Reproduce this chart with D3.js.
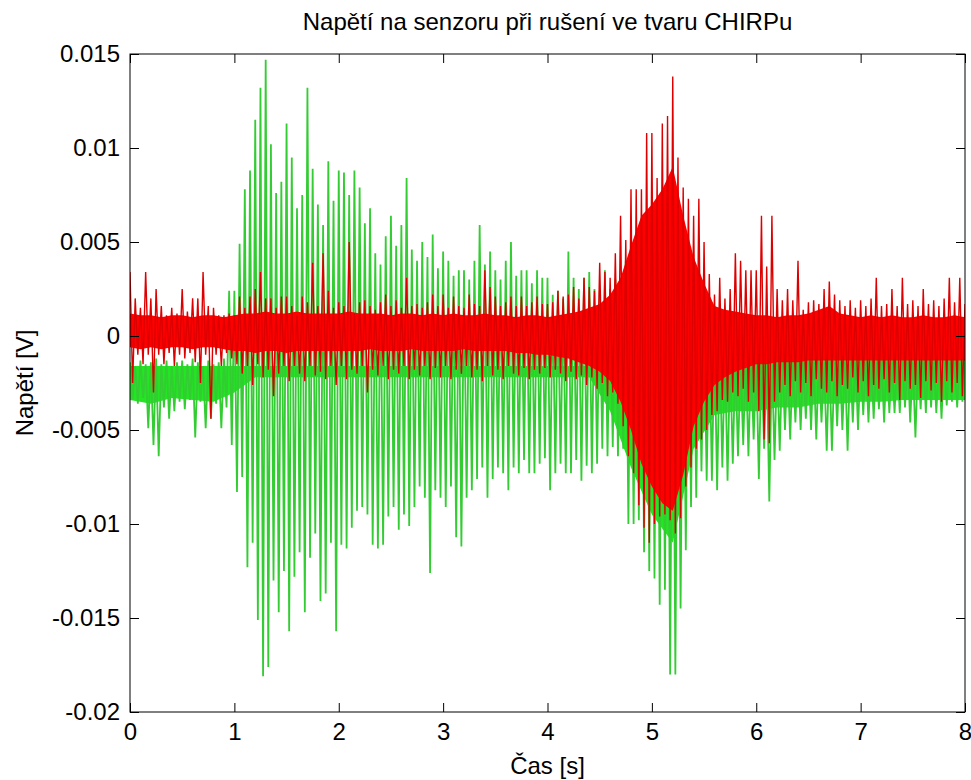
<!DOCTYPE html>
<html>
<head>
<meta charset="utf-8">
<script src="https://cdn.jsdelivr.net/npm/d3@7"></script>
<style>
	body { margin: 0; background: #fff; }
	svg { display: block; }
	text { font-family: "Liberation Sans", Arial, sans-serif; }
</style>
</head>
<body>
<div id="chart"></div>
<script>
// sample steps of the envelopes (seconds)
var spikeStep = 0.05;
var redCoreStep = 0.1;
var greenCoreStep = 0.2;

var xTicks = [0, 1, 2, 3, 4, 5, 6, 7, 8];
var yTicks = [15, 10, 5, 0, -5, -10, -15, -20]; // mV
var yTickLabels = ["0.015", "0.01", "0.005", "0", "-0.005", "-0.01", "-0.015", "-0.02"];

// all values below in mV, one row per second
var greenHi = [
	-1.4,-1.6,-1.3,-1.5,-1.4,-1.2,-1.5,-1.3,-1.6,-1.4,-1.3,-1.5,-1.2,-1.4,-1.6,-1.3,-1.5,-1.4,-1.2,2.4,
	2.4,4.9,7.8,8.8,11.5,13.2,14.7,10.2,7.6,8.2,11.3,9.5,6.8,7.5,13.2,8.9,7.0,5.9,9.3,7.2,
	8.8,8.7,7.5,8.8,7.9,6.0,6.8,4.4,3.8,5.3,6.4,4.8,5.9,8.4,4.6,4.0,5.0,4.2,5.4,3.6,
	4.5,4.0,3.2,3.5,3.5,3.0,4.0,5.9,3.8,4.5,3.5,3.0,4.0,5.0,3.2,3.5,3.5,2.8,3.5,3.1,
	3.1,2.2,2.4,2.0,4.5,3.1,2.5,3.1,3.4,2.5,2.4,3.5,2.5,3.0,3.0,4.0,4.5,5.0,5.5,6.0,
	6.0,6.5,6.0,5.5,5.0,4.0,3.0,2.5,2.0,1.5,1.0,0.5,0.0,-0.5,-0.8,-1.0,-1.0,-1.2,-1.0,-1.1,
	-1.2,-1.0,-1.3,-1.1,-1.2,-1.0,-1.3,-1.2,-1.1,-1.3,-1.0,-1.2,-1.1,-1.3,-1.0,-1.2,-1.1,-1.3,-1.2,-1.0,
	-1.2,-1.1,-1.3,-1.0,-1.2,-1.1,-1.3,-1.2,-1.0,-1.1,-1.3,-1.2,-1.0,-1.1,-1.2,-1.3,-1.1,-1.0,-1.2,-1.1,
	-1.2
];
var greenLo = [
	-3.4,-3.6,-3.3,-4.9,-5.8,-6.4,-3.8,-4.4,-4.0,-3.5,-3.9,-3.4,-5.4,-3.5,-4.9,-4.4,-3.6,-4.9,-3.8,-5.8,
	-8.3,-7.5,-12.3,-11.0,-15.1,-18.1,-17.6,-13.0,-14.7,-12.5,-15.7,-12.8,-11.5,-14.7,-11.8,-10.5,-14.1,-13.7,-11.0,-15.7,
	-11.1,-11.3,-10.2,-9.3,-9.1,-9.5,-11.1,-11.3,-11.1,-9.6,-9.1,-10.3,-9.5,-10.1,-9.1,-8.0,-8.6,-12.6,-8.2,-8.6,
	-9.1,-8.0,-10.7,-11.2,-8.6,-8.2,-7.6,-7.0,-8.6,-7.6,-7.0,-7.3,-8.2,-7.0,-7.3,-6.6,-7.3,-7.3,-6.8,-6.5,
	-8.2,-7.3,-6.8,-7.3,-7.3,-6.6,-7.7,-6.9,-7.3,-6.8,-6.0,-6.4,-5.9,-6.4,-6.0,-10.0,-10.0,-9.8,-11.5,-12.5,
	-12.9,-14.3,-13.5,-18.0,-18.0,-14.5,-11.4,-9.1,-8.6,-7.2,-7.7,-7.7,-8.2,-7.0,-7.7,-6.8,-6.4,-5.8,-6.4,-5.5,
	-7.6,-6.0,-8.8,-6.6,-6.1,-5.0,-5.5,-4.6,-5.0,-4.4,-5.0,-5.5,-4.6,-6.1,-6.1,-4.8,-5.0,-6.1,-4.6,-5.0,
	-4.2,-4.6,-4.4,-3.9,-4.6,-4.1,-4.1,-4.1,-3.8,-4.6,-5.4,-3.9,-4.1,-3.8,-4.1,-4.4,-3.7,-3.5,-3.8,-3.5,
	-3.5
];
var redHi = [
	3.4,2.0,1.5,3.4,2.0,2.5,1.6,1.1,1.5,1.2,2.5,1.3,2.0,2.0,3.4,1.6,1.5,1.1,1.1,1.2,
	1.1,2.1,1.5,2.1,2.5,3.4,2.0,2.0,1.5,2.1,2.1,1.6,1.1,2.1,1.8,3.9,1.6,4.4,2.4,1.5,
	1.8,1.6,5.0,1.2,1.8,1.9,1.6,1.4,1.8,2.2,1.6,1.9,1.5,3.1,1.6,1.7,1.5,1.8,2.2,1.6,
	2.2,1.5,2.1,1.6,1.5,2.2,1.7,1.6,3.5,2.6,2.1,1.6,1.8,2.1,1.6,2.1,1.6,1.8,2.1,1.7,
	1.7,1.8,2.4,2.1,2.2,2.6,2.0,3.1,2.6,2.4,3.9,3.4,3.1,4.4,6.4,5.1,7.8,7.8,7.8,10.8,
	10.8,8.4,11.3,11.7,13.8,9.5,7.9,7.3,6.4,7.3,5.0,3.3,2.2,3.1,2.0,2.5,4.4,4.0,3.5,3.5,
	3.5,6.4,3.7,6.4,2.5,1.9,2.5,1.9,4.0,1.4,1.8,1.9,1.7,2.5,2.9,2.2,1.9,1.6,1.9,1.5,
	1.9,1.6,2.0,3.1,1.6,1.7,2.5,1.6,3.1,1.7,1.9,1.6,2.5,1.7,1.9,1.6,2.0,3.1,1.8,3.1,
	1.7
];
var redLo = [
	-2.5,-1.0,-1.5,-1.0,-3.0,-1.0,-1.5,-0.9,-1.6,-1.0,-1.2,-0.9,-1.4,-2.5,-1.0,-4.4,-1.0,-1.6,-0.9,-1.2,
	-1.5,-2.0,-1.6,-2.6,-1.5,-2.2,-1.8,-3.2,-2.0,-1.6,-2.4,-1.6,-2.0,-2.4,-1.6,-2.1,-1.9,-2.3,-1.6,-2.6,
	-1.6,-2.3,-1.8,-2.0,-1.6,-3.0,-1.8,-2.1,-1.6,-2.3,-1.8,-2.0,-1.6,-2.3,-1.8,-2.1,-1.6,-2.3,-1.7,-2.2,
	-1.6,-2.3,-1.8,-2.0,-1.6,-2.2,-1.8,-2.4,-1.6,-2.1,-1.8,-2.3,-1.6,-2.0,-2.1,-1.7,-2.3,-1.8,-2.0,-1.7,
	-2.2,-1.8,-2.0,-2.4,-1.9,-2.3,-2.1,-2.6,-2.2,-2.8,-2.5,-3.2,-3.0,-3.6,-4.8,-6.4,-7.3,-9.0,-10.2,-11.0,
	-10.0,-9.6,-9.5,-9.8,-10.5,-9.7,-8.0,-7.0,-6.0,-5.5,-5.0,-4.2,-4.0,-3.4,-3.5,-3.0,-3.2,-2.8,-3.5,-3.0,
	-4.0,-5.5,-5.7,-3.5,-3.0,-2.6,-3.2,-2.4,-3.0,-2.5,-3.2,-2.3,-2.8,-3.0,-2.4,-3.2,-2.6,-2.8,-2.2,-3.0,
	-2.4,-3.2,-2.6,-2.8,-2.3,-3.0,-2.5,-3.4,-2.4,-2.8,-2.6,-3.3,-2.4,-2.9,-2.5,-3.5,-2.4,-3.0,-2.5,-3.2,
	-2.6
];

// solid middle band of each trace
var redCoreHi = [
	1.2,1.1,1.1,1.0,1.1,1.1,1.0,1.1,1.1,1.0,
	1.1,1.2,1.2,1.3,1.2,1.2,1.3,1.2,1.2,1.2,
	1.2,1.3,1.2,1.2,1.2,1.1,1.2,1.2,1.1,1.2,
	1.1,1.2,1.1,1.1,1.2,1.1,1.1,1.0,1.1,1.1,
	1.0,1.1,1.2,1.3,1.5,1.7,2.2,3.1,4.8,6.4,
	7.0,7.8,9.0,6.4,4.2,2.8,1.6,1.4,1.3,1.2,
	1.1,1.1,1.0,1.1,1.1,1.2,1.4,1.6,1.2,1.1,
	1.0,1.1,1.0,1.1,1.0,1.0,1.1,1.0,1.0,1.1,
	1.0
];
var redCoreLo = [
	-0.6,-0.7,-0.6,-0.7,-0.6,-0.6,-0.7,-0.6,-0.6,-0.7,
	-0.8,-0.8,-0.9,-0.8,-0.8,-0.9,-0.8,-0.8,-0.8,-0.8,
	-0.8,-0.8,-0.8,-0.7,-0.8,-0.8,-0.8,-0.7,-0.8,-0.8,
	-0.8,-0.8,-0.7,-0.8,-0.8,-0.8,-0.8,-0.9,-0.9,-1.0,
	-1.0,-1.1,-1.2,-1.4,-1.6,-1.9,-2.4,-3.5,-5.0,-6.8,
	-8.0,-8.9,-9.3,-7.4,-4.8,-3.5,-2.6,-2.2,-1.9,-1.7,
	-1.5,-1.5,-1.4,-1.4,-1.4,-1.3,-1.3,-1.3,-1.3,-1.3,
	-1.3,-1.3,-1.3,-1.3,-1.3,-1.3,-1.3,-1.3,-1.3,-1.3,
	-1.3
];
var greenCoreHi = [
	-1.6,-1.6,-1.6,-1.6,-1.6,-1.6,-1.6,-1.6,-1.6,-1.6,
	-1.6,-1.6,-1.6,-1.6,-1.6,-1.6,-1.6,-1.6,-1.6,-1.6,
	-1.6,-1.6,-1.6,-2.0,-3.0,-4.0,-5.0,-3.0,-2.0,-1.4,
	-1.2,-1.2,-1.2,-1.2,-1.2,-1.2,-1.2,-1.2,-1.2,-1.2,
	-1.2
];
var greenCoreLo = [
	-3.4,-3.6,-3.3,-3.4,-3.5,-3.0,-2.2,-2.2,-2.2,-2.2,
	-2.2,-2.2,-2.2,-2.2,-2.2,-2.2,-2.2,-2.2,-2.2,-2.2,
	-2.2,-2.2,-2.2,-4.0,-7.0,-9.5,-11.0,-6.0,-4.2,-4.0,
	-4.0,-3.8,-3.8,-3.6,-3.6,-3.5,-3.5,-3.4,-3.4,-3.4,
	-3.4
];

var width = 971,
	height = 780;
var plot = { left: 130, right: 965, top: 54, bottom: 712 };
var fontFamily = "'Liberation Sans', Arial, sans-serif";

var x = d3.scaleLinear().domain([0, 8]).range([plot.left, plot.right]);
var y = d3.scaleLinear().domain([-20, 15]).range([plot.bottom, plot.top]);

var svg = d3.select("#chart").append("svg")
	.attr("width", width)
	.attr("height", height);

svg.append("clipPath")
	.attr("id", "plotClip")
	.append("rect")
	.attr("x", plot.left)
	.attr("y", plot.top)
	.attr("width", plot.right - plot.left)
	.attr("height", plot.bottom - plot.top);

var data = svg.append("g").attr("clip-path", "url(#plotClip)");

// one up stroke and one down stroke per sample
function zigzag(hi, lo, step) {
	var pts = [];
	hi.forEach(function(v, i) {
		pts.push([i * step, v]);
		pts.push([i * step + step / 2, lo[i]]);
	});
	return pts;
}

var line = d3.line()
	.x(function(d) { return x(d[0]); })
	.y(function(d) { return y(d[1]); });

function band(hi, lo, step) {
	return d3.area()
		.x(function(i) { return x(i * step); })
		.y0(function(i) { return y(lo[i]); })
		.y1(function(i) { return y(hi[i]); })(d3.range(hi.length));
}

data.append("path")
	.attr("d", band(greenCoreHi, greenCoreLo, greenCoreStep))
	.attr("fill", "#22e622");

data.append("path")
	.attr("d", line(zigzag(greenHi, greenLo, spikeStep)))
	.attr("fill", "none")
	.attr("stroke", "#33cc33")
	.attr("stroke-width", 1.8);

data.append("path")
	.attr("d", band(redCoreHi, redCoreLo, redCoreStep))
	.attr("fill", "#ff0000");

data.append("path")
	.attr("d", line(zigzag(redHi, redLo, spikeStep)))
	.attr("fill", "none")
	.attr("stroke", "#dd0000")
	.attr("stroke-width", 1.4);

// frame and inward ticks on all four sides
svg.append("rect")
	.attr("x", plot.left)
	.attr("y", plot.top)
	.attr("width", plot.right - plot.left)
	.attr("height", plot.bottom - plot.top)
	.attr("fill", "none")
	.attr("stroke", "#000")
	.attr("stroke-width", 1);

function styleAxis(g) {
	g.select(".domain").remove();
	g.selectAll(".tick line").attr("stroke", "#000");
	g.selectAll("text")
		.attr("fill", "#000")
		.style("font-size", "24px")
		.style("font-family", fontFamily);
}

svg.append("g")
	.attr("transform", "translate(0," + plot.bottom + ")")
	.call(d3.axisBottom(x).tickValues(xTicks).tickSizeInner(-9).tickSizeOuter(0).tickPadding(11)
		.tickFormat(function(d) { return String(d); }))
	.call(styleAxis);

svg.append("g")
	.attr("transform", "translate(0," + plot.top + ")")
	.call(d3.axisTop(x).tickValues(xTicks).tickSizeInner(-9).tickSizeOuter(0).tickFormat(""))
	.call(styleAxis);

svg.append("g")
	.attr("transform", "translate(" + plot.left + ",0)")
	.call(d3.axisLeft(y).tickValues(yTicks).tickSizeInner(-9).tickSizeOuter(0).tickPadding(10)
		.tickFormat(function(d, i) { return yTickLabels[i]; }))
	.call(styleAxis);

svg.append("g")
	.attr("transform", "translate(" + plot.right + ",0)")
	.call(d3.axisRight(y).tickValues(yTicks).tickSizeInner(-9).tickSizeOuter(0).tickFormat(""))
	.call(styleAxis);

svg.append("text")
	.attr("x", (plot.left + plot.right) / 2)
	.attr("y", 30)
	.attr("text-anchor", "middle")
	.style("font-size", "24px")
	.style("font-family", fontFamily)
	.text("Napětí na senzoru při rušení ve tvaru CHIRPu");

svg.append("text")
	.attr("x", (plot.left + plot.right) / 2)
	.attr("y", 774)
	.attr("text-anchor", "middle")
	.style("font-size", "24px")
	.style("font-family", fontFamily)
	.text("Čas [s]");

svg.append("text")
	.attr("transform", "translate(33," + ((plot.top + plot.bottom) / 2) + ") rotate(-90)")
	.attr("text-anchor", "middle")
	.style("font-size", "24px")
	.style("font-family", fontFamily)
	.text("Napětí [V]");
</script>
</body>
</html>
